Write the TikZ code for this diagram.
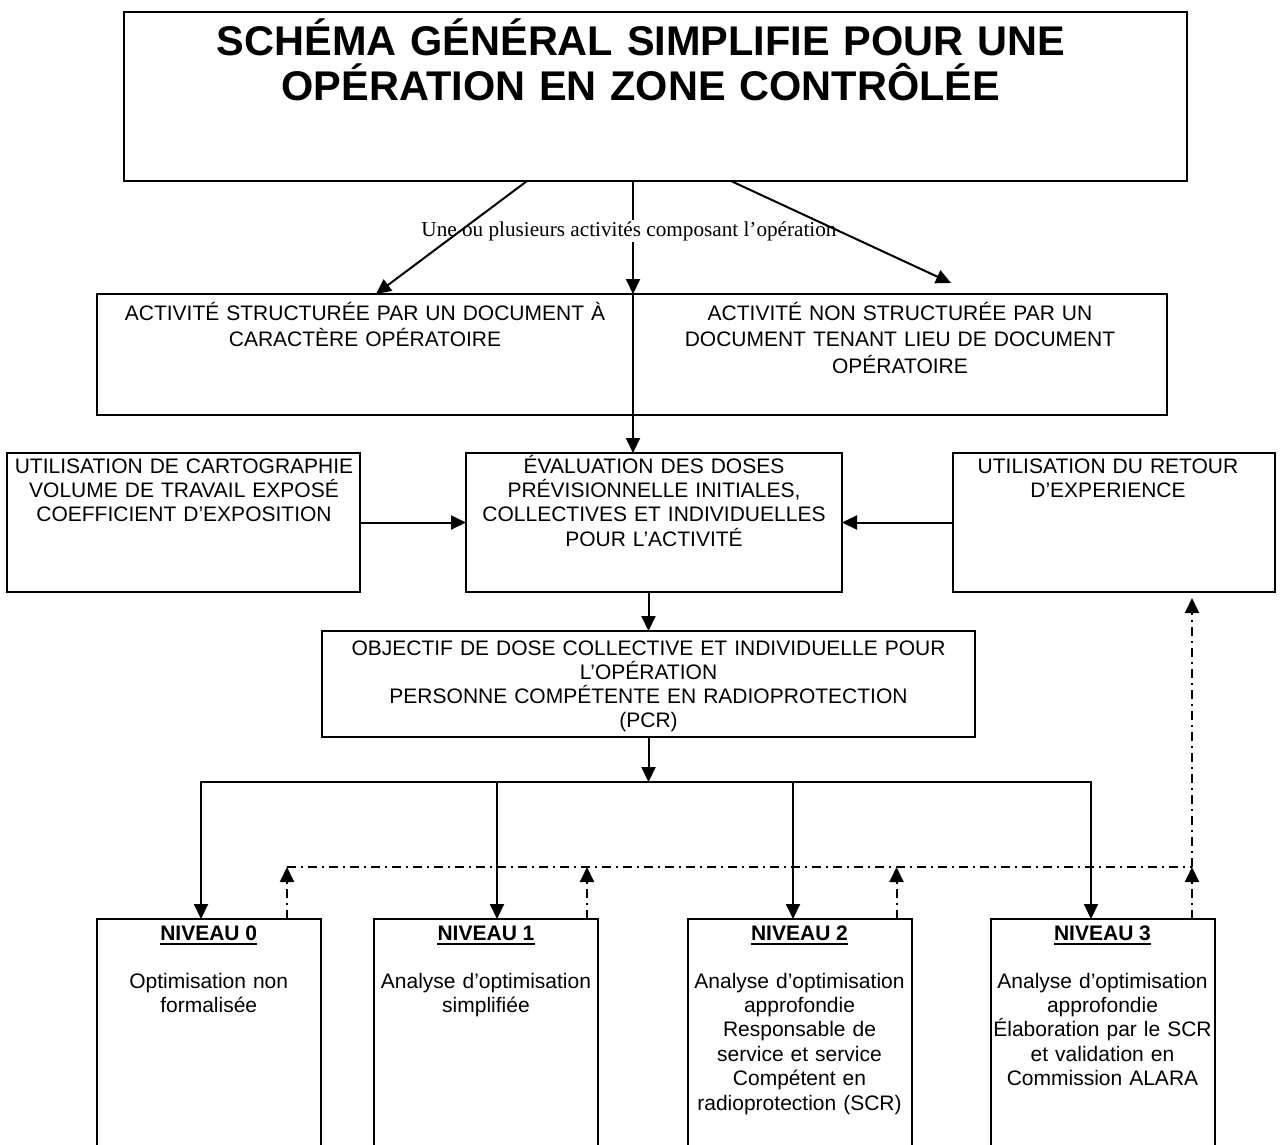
\documentclass[tikz,border=0pt]{standalone}
\usepackage{fontspec}
\setmainfont{Liberation Sans}
\newfontfamily\notefont{Liberation Serif}
\usetikzlibrary{arrows.meta,calc}

\begin{document}
\begin{tikzpicture}
    [x=1pt, y=-1pt,
    box/.style={draw, line width=2pt, inner sep=0pt, outer sep=0pt},
    txt/.style={text width=#1, align=center, inner sep=0pt, anchor=base,
        font={\fontsize{21}{24.4}\selectfont}},
    head/.style={inner sep=0pt, anchor=base, font={\fontsize{21}{24.4}\selectfont\bfseries}},
    link/.style={line width=2pt, line cap=rect},
    arr/.style={line width=2pt, -{Triangle[length=15pt, width=14pt]}},
    back/.style={line width=2pt, dash pattern=on 9pt off 5pt on 2pt off 5pt},
    backarr/.style={back, -{Triangle[length=15pt, width=14pt]}}]

    \path[use as bounding box, fill=white] (0,0) rectangle (1282,1144);
    \clip (0,0) rectangle (1282,1144);

    % title
    \node[box, minimum width=1063, minimum height=169] (titre) at (655.5,96.5) {};
    \node[txt=1040, font=\bfseries\fontsize{41.5}{45}\selectfont] at (641,55)
        {SCHÉMA GÉNÉRAL SIMPLIFIE POUR UNE\\OPÉRATION EN ZONE CONTRÔLÉE};

    % activities
    \node[box, minimum width=536, minimum height=121] (act1) at (365,354.5) {};
    \node[box, minimum width=534, minimum height=121] (act2) at (900,354.5) {};
    \node[txt=560, font={\fontsize{21}{26.5}\selectfont}] at (365,320)
        {ACTIVITÉ STRUCTURÉE PAR UN DOCUMENT À\\CARACTÈRE OPÉRATOIRE};
    \node[txt=560, font={\fontsize{21}{26.5}\selectfont}] at (900,320)
        {ACTIVITÉ NON STRUCTURÉE PAR UN\\DOCUMENT TENANT LIEU DE DOCUMENT\\OPÉRATOIRE};

    % dose evaluation row
    \node[box, minimum width=353.5, minimum height=139] (carto) at (183.25,522.5) {};
    \node[box, minimum width=376, minimum height=139] (eval) at (654,522.5) {};
    \node[box, minimum width=322, minimum height=139] (retour) at (1114,522.5) {};
    \node[txt=380] at (184,473)
        {UTILISATION DE CARTOGRAPHIE\\VOLUME DE TRAVAIL EXPOSÉ\\COEFFICIENT D’EXPOSITION};
    \node[txt=400] at (654,473)
        {ÉVALUATION DES DOSES\\PRÉVISIONNELLE INITIALES,\\COLLECTIVES ET INDIVIDUELLES\\POUR L’ACTIVITÉ};
    \node[txt=340] at (1108,473) {UTILISATION DU RETOUR\\D’EXPERIENCE};

    % objective
    \node[box, minimum width=653, minimum height=106] (obj) at (648.5,684) {};
    \node[txt=680, font={\fontsize{21}{24}\selectfont}] at (648.5,655)
        {OBJECTIF DE DOSE COLLECTIVE ET INDIVIDUELLE POUR\\L’OPÉRATION\\PERSONNE COMPÉTENTE EN RADIOPROTECTION\\(PCR)};

    % levels
    \foreach \n/\x in {n0/208.75, n1/486, n2/799.5, n3/1102.5}
        \node[box, minimum width=224, minimum height=256] (\n) at (\x,1047) {};
    \foreach \n/\x [count=\i from 0] in {n0/208.75, n1/486, n2/799.5, n3/1102.5} {
        \node[head] (h\i) at (\x,940) {NIVEAU \i};
        \draw[line width=2.2pt] ([yshift=-3.6]h\i.base west) -- ([yshift=-3.6]h\i.base east);
    }
    \node[txt=250] at (208.75,988) {Optimisation non\\formalisée};
    \node[txt=250] at (486,988) {Analyse d’optimisation\\simplifiée};
    \node[txt=250] at (799.5,988) {Analyse d’optimisation\\approfondie\\Responsable de\\service et service\\Compétent en\\radioprotection (SCR)};
    \node[txt=250] at (1102.5,988) {Analyse d’optimisation\\approfondie\\Élaboration par le SCR\\et validation en\\Commission ALARA};

    % arrows from the title
    \draw[arr] (titre.south -| act1.north east) -- (act1.north east);
    \node[fill=white, inner sep=1pt, anchor=base, font=\notefont\fontsize{21.2}{24}\selectfont] (note) at (629,236)
        {Une ou plusieurs activités composant l’opération};
    \draw[arr] ([xshift=-128.5]titre.south) -- ([xshift=11]act1.north);
    \draw[arr] ([xshift=75.5]titre.south) -- ([xshift=51,yshift=11]act2.north);
    \draw[arr] (act1.south east) -- (act1.south east |- eval.north);

    \draw[arr] (carto) -- (eval);
    \draw[arr] (retour) -- (eval);
    \draw[arr] (eval.south -| obj.north) -- (obj.north);

    % split towards the four levels
    \coordinate (split) at (648.5,782);
    \draw[arr] (obj.south) -- (split);
    \draw[link] ([xshift=-7.75]n0.north |- split) -- ([xshift=-11.5]n3.north |- split);
    \foreach \n/\dx in {n0/-7.75, n1/11, n2/-6.5, n3/-11.5}
        \draw[arr] ([xshift=\dx]\n.north |- split) -- ([xshift=\dx]\n.north);

    % feedback (dash-dot)
    \coordinate (fb) at (0,867);
    \foreach \n/\dx in {n0/78.25, n1/101, n2/97, n3/89.5}
        \draw[backarr] ([xshift=\dx]\n.north) -- ([xshift=\dx]\n.north |- fb);
    \draw[back] ([xshift=78.25]n0.north |- fb) -- ([xshift=89.5]n3.north |- fb);
    \draw[backarr] ([xshift=89.5]n3.north |- fb) -- ($([xshift=89.5]n3.north |- retour.south)+(0,6)$);

\end{tikzpicture}
\end{document}
